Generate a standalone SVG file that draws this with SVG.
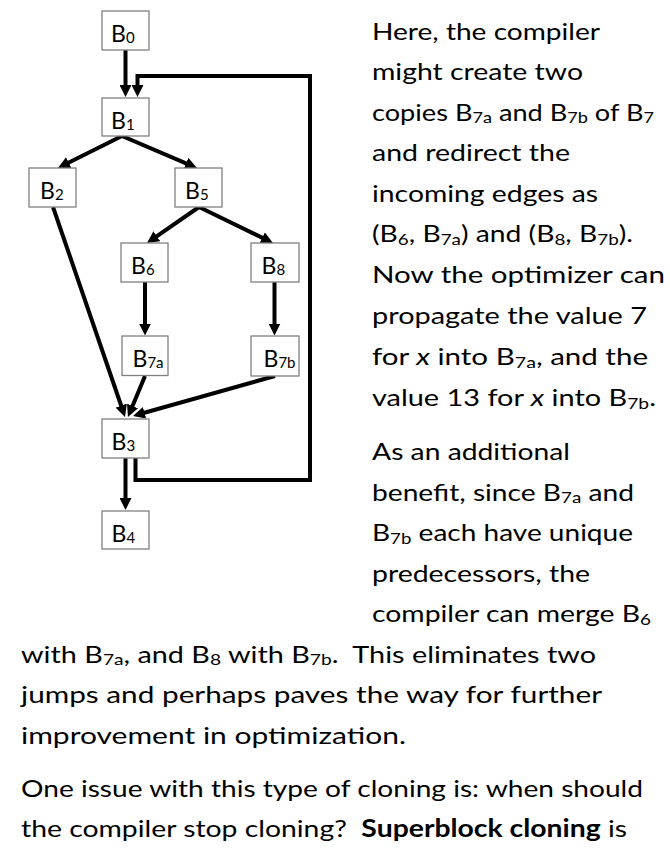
<svg xmlns="http://www.w3.org/2000/svg" width="670" height="848" viewBox="0 0 670 848">
<style>
.box{fill:#fff;stroke:#808080;stroke-width:1.3}
.lbl{font-family:Lato,"Liberation Sans",sans-serif;font-size:23px;fill:#000}
.sb{font-size:15px}
.edge{fill:none;stroke:#000;stroke-width:4;stroke-linejoin:miter}
.t{font-family:Lato,"Liberation Sans",sans-serif;font-size:24px;fill:#000}
.s{font-size:16px}
</style>
<defs>
<marker id="ah" viewBox="0 0 12 12" markerWidth="12" markerHeight="12" markerUnits="userSpaceOnUse" refX="2" refY="6" orient="auto">
<path d="M0,0 L12,6 L0,12 z" fill="#000"/>
</marker>
</defs>
<rect width="670" height="848" fill="#fff"/>
<g id="connectors">
<path class="edge" marker-end="url(#ah)" d="M125.5,50 V87"/>
<path class="edge" marker-end="url(#ah)" d="M135.5,458 V480 H310 V76 H137.5 V87"/>
<path class="edge" marker-end="url(#ah)" d="M125.5,458 V500"/>
<path class="edge" marker-end="url(#ah)" d="M122,136 L66.9,163.5"/>
<path class="edge" marker-end="url(#ah)" d="M122,136 L187.8,164.1"/>
<path class="edge" marker-end="url(#ah)" d="M199,207 L155.2,237.3"/>
<path class="edge" marker-end="url(#ah)" d="M199,207 L264,238.6"/>
<path class="edge" marker-end="url(#ah)" d="M145,282 V325.5"/>
<path class="edge" marker-end="url(#ah)" d="M274.5,282 V325.5"/>
<path class="edge" marker-end="url(#ah)" d="M53,207 L121.8,407.5"/>
<path class="edge" marker-end="url(#ah)" d="M145,376 L131.8,407.8"/>
<path class="edge" marker-end="url(#ah)" d="M275,376 L142.6,413.3"/>
</g>
<g id="B0"><rect class="box" x="102" y="11" width="47" height="39"/><text class="lbl" x="111" y="42">B<tspan class="sb" dy="1">0</tspan></text></g>
<g id="B1"><rect class="box" x="102" y="98" width="47" height="38"/><text class="lbl" x="111" y="129">B<tspan class="sb" dy="1">1</tspan></text></g>
<g id="B2"><rect class="box" x="29" y="168" width="47" height="39"/><text class="lbl" x="40" y="199">B<tspan class="sb" dy="1">2</tspan></text></g>
<g id="B5"><rect class="box" x="175" y="168" width="47" height="39"/><text class="lbl" x="185" y="199">B<tspan class="sb" dy="1">5</tspan></text></g>
<g id="B6"><rect class="box" x="121" y="243" width="47" height="39"/><text class="lbl" x="131" y="274">B<tspan class="sb" dy="1">6</tspan></text></g>
<g id="B8"><rect class="box" x="251" y="243" width="48" height="39"/><text class="lbl" x="261.5" y="274">B<tspan class="sb" dy="1">8</tspan></text></g>
<g id="B7a"><rect class="box" x="122" y="336" width="46" height="39.5"/><text class="lbl" x="132.5" y="367">B<tspan class="sb" dy="1">7a</tspan></text></g>
<g id="B7b"><rect class="box" x="251" y="336" width="48" height="40"/><text class="lbl" x="263.5" y="367">B<tspan class="sb" dy="1">7b</tspan></text></g>
<g id="B3"><rect class="box" x="102" y="419" width="47" height="39"/><text class="lbl" x="111.5" y="450">B<tspan class="sb" dy="1">3</tspan></text></g>
<g id="B4"><rect class="box" x="102" y="511" width="47" height="38"/><text class="lbl" x="111.5" y="542">B<tspan class="sb" dy="1">4</tspan></text></g>
<g id="text" class="t">
<text class="t" x="372" y="39.5" textLength="228" lengthAdjust="spacingAndGlyphs">Here, the compiler</text>
<text class="t" x="372" y="80" textLength="211" lengthAdjust="spacingAndGlyphs">might create two</text>
<text class="t" x="372" y="120.5" textLength="282" lengthAdjust="spacingAndGlyphs">copies B<tspan class="s" dy="2.5">7a</tspan><tspan dy="-2.5"> and B</tspan><tspan class="s" dy="2.5">7b</tspan><tspan dy="-2.5"> of B</tspan><tspan class="s" dy="2.5">7</tspan></text>
<text class="t" x="372" y="161" textLength="198" lengthAdjust="spacingAndGlyphs">and redirect the</text>
<text class="t" x="372" y="201.5" textLength="226" lengthAdjust="spacingAndGlyphs">incoming edges as</text>
<text class="t" x="372" y="242" textLength="261" lengthAdjust="spacingAndGlyphs">(B<tspan class="s" dy="2.5">6</tspan><tspan dy="-2.5">, B</tspan><tspan class="s" dy="2.5">7a</tspan><tspan dy="-2.5">) and (B</tspan><tspan class="s" dy="2.5">8</tspan><tspan dy="-2.5">, B</tspan><tspan class="s" dy="2.5">7b</tspan><tspan dy="-2.5">).</tspan></text>
<text class="t" x="372" y="282.5" textLength="293" lengthAdjust="spacingAndGlyphs">Now the optimizer can</text>
<text class="t" x="372" y="323.5" textLength="275" lengthAdjust="spacingAndGlyphs">propagate the value 7</text>
<text class="t" x="372" y="365" textLength="276" lengthAdjust="spacingAndGlyphs">for <tspan font-style="italic">x</tspan> into B<tspan class="s" dy="2.5">7a</tspan><tspan dy="-2.5">, and the</tspan></text>
<text class="t" x="372" y="406" textLength="284" lengthAdjust="spacingAndGlyphs">value 13 for <tspan font-style="italic">x</tspan> into B<tspan class="s" dy="2.5">7b</tspan><tspan dy="-2.5">.</tspan></text>
<text class="t" x="372" y="460" textLength="198" lengthAdjust="spacingAndGlyphs">As an additional</text>
<text class="t" x="372" y="500.5" textLength="262" lengthAdjust="spacingAndGlyphs">benefit, since B<tspan class="s" dy="2.5">7a</tspan><tspan dy="-2.5"> and</tspan></text>
<text class="t" x="372" y="541" textLength="261" lengthAdjust="spacingAndGlyphs">B<tspan class="s" dy="2.5">7b</tspan><tspan dy="-2.5"> each have unique</tspan></text>
<text class="t" x="372" y="581.5" textLength="218" lengthAdjust="spacingAndGlyphs">predecessors, the</text>
<text class="t" x="372" y="622" textLength="279" lengthAdjust="spacingAndGlyphs">compiler can merge B<tspan class="s" dy="2.5">6</tspan></text>
<text class="t" x="21" y="662.5" textLength="575" lengthAdjust="spacingAndGlyphs">with B<tspan class="s" dy="2.5">7a</tspan><tspan dy="-2.5">, and B</tspan><tspan class="s" dy="2.5">8</tspan><tspan dy="-2.5"> with B</tspan><tspan class="s" dy="2.5">7b</tspan><tspan dy="-2.5">. &#160;This eliminates two</tspan></text>
<text class="t" x="21" y="703.3" textLength="581" lengthAdjust="spacingAndGlyphs">jumps and perhaps paves the way for further</text>
<text class="t" x="21" y="744" textLength="385" lengthAdjust="spacingAndGlyphs">improvement in optimization.</text>
<text class="t" x="21" y="796.5" textLength="622" lengthAdjust="spacingAndGlyphs">One issue with this type of cloning is: when should</text>
<text class="t" x="21" y="836.5" textLength="606" lengthAdjust="spacingAndGlyphs">the compiler stop cloning? &#160;<tspan font-weight="bold">Superblock cloning</tspan> is</text>
</g>
</svg>
